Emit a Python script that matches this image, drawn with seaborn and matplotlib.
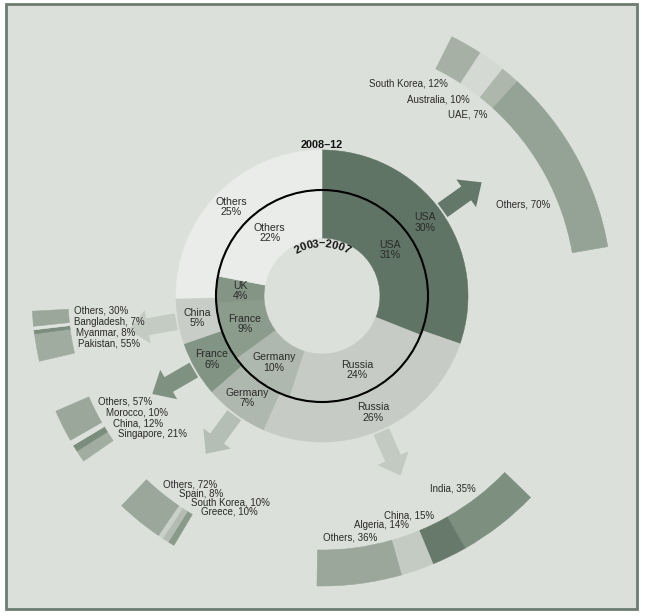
import matplotlib
matplotlib.use("Agg")
import matplotlib.pyplot as plt
from matplotlib.patches import Circle, Rectangle
import seaborn as sns
import numpy as np

# Share of world arms exports, two periods (clockwise from 12 o'clock)
inner_labels = ['USA', 'Russia', 'Germany', 'France', 'UK', 'Others']
inner_values = [31, 24, 10, 9, 4, 22]          # 2003-2007
outer_labels = ['USA', 'Russia', 'Germany', 'France', 'China', 'Others']
outer_values = [30, 26, 7, 6, 5, 25]           # 2008-12

# Main buyers of each exporter, 2008-12 (clockwise order along the arc)
usa_buyers = ['South Korea', 'Australia', 'UAE', 'Others']
usa_shares = [12, 10, 7, 70]
russia_buyers = ['India', 'China', 'Algeria', 'Others']
russia_shares = [35, 15, 14, 36]
germany_buyers = ['Greece', 'South Korea', 'Spain', 'Others']
germany_shares = [10, 10, 8, 72]
france_buyers = ['Singapore', 'China', 'Morocco', 'Others']
france_shares = [21, 12, 10, 57]
china_buyers = ['Pakistan', 'Myanmar', 'Bangladesh', 'Others']
china_shares = [55, 8, 7, 30]

# ---- styling / layout ----
BG = '#dce0da'
TXT = '#2a2a2a'
inner_colors = ['#5f7464', '#c6ccc5', '#afb8ae', '#8b9b8c', '#849586', '#e9ece8']
outer_colors = ['#5f7464', '#c6ccc5', '#afb8ae', '#829484', '#c8cec7', '#e9ece8']
arrow_colors = ['#64786a', '#c3cac2', '#b5beb4', '#7f9282', '#c4cbc3']

CX, CY = 322, 296          # pixel position of the donut centre
R_OUT, R_MID, R_HOLE = 146, 106, 58
R_ARC, W_ARC = 290, 36


def P(x, y):
    # pixel position -> data coords
    return x - CX, CY - y


sns.set_theme(style='white')
plt.rcParams['font.family'] = ['Liberation Sans', 'DejaVu Sans']

fig = plt.figure(figsize=(6.45, 6.16), dpi=100, facecolor='white')
ax = fig.add_axes([0, 0, 1, 1])
ax.axis('off')

# panel background with frame
x0, y0 = P(6, 609)
ax.add_patch(Rectangle((x0, y0), 631, 605, facecolor=BG, edgecolor='#6d7c70',
                       lw=2, zorder=0))


def seal(wedges):
    for w in wedges:
        w.set_edgecolor(w.get_facecolor())
        w.set_linewidth(0.4)


outer_w, _ = ax.pie(outer_values, colors=outer_colors, startangle=90, counterclock=False,
                    radius=R_OUT, wedgeprops=dict(width=R_OUT - R_MID, linewidth=0))
inner_w, _ = ax.pie(inner_values, colors=inner_colors, startangle=90, counterclock=False,
                    radius=R_MID, wedgeprops=dict(width=R_MID - R_HOLE, linewidth=0))
seal(outer_w)
seal(inner_w)
for w in outer_w + inner_w:
    w.set_zorder(2)

ax.add_patch(Circle((0, 0), R_MID, fill=False, ec='black', lw=1.5, zorder=4))

# ring labels
outer_tot = sum(outer_values)
for w, lab, v in zip(outer_w, outer_labels, outer_values):
    a = np.deg2rad((w.theta1 + w.theta2) / 2)
    r = 127
    ax.text(r * np.cos(a), r * np.sin(a), f'{lab}\n{round(v / outer_tot * 100)}%',
            ha='center', va='center', fontsize=7.6, color=TXT, linespacing=1.05, zorder=5)
for w, lab, v in zip(inner_w, inner_labels, inner_values):
    a = np.deg2rad((w.theta1 + w.theta2) / 2)
    r = (R_MID + R_HOLE) / 2
    ax.text(r * np.cos(a), r * np.sin(a), f'{lab}\n{v}%',
            ha='center', va='center', fontsize=7.6, color=TXT, linespacing=1.05, zorder=5)

# period titles
ax.text(*P(322, 145), '2008\u201312', ha='center', va='center', fontsize=7.8,
        fontweight='bold', color='#111111', zorder=5)
period = '2003\u20132007'
n = len(period)
for i, ch in enumerate(period):
    th = (i - (n - 1) / 2) * 7.0
    t = np.deg2rad(th)
    ax.text(52 * np.sin(t), 52 * np.cos(t), ch, rotation=-th, ha='center', va='center',
            fontsize=8, fontweight='bold', color='#111111', zorder=5,
            rotation_mode='anchor')

# arrows from each exporter to its buyers
for w, col in zip(outer_w[:5], arrow_colors):
    a = np.deg2rad((w.theta1 + w.theta2) / 2)
    r0, r1 = R_OUT + 2, R_OUT + 50
    ax.arrow(r0 * np.cos(a), r0 * np.sin(a), (r1 - r0) * np.cos(a), (r1 - r0) * np.sin(a),
             width=17, head_width=34, head_length=19, length_includes_head=True,
             fc=col, ec='none', zorder=3)

# buyer arcs: (names, shares, colours, compass start, compass end, label layout)
groups = [
    (usa_buyers, usa_shares, ['#a6b0a5', '#d4d9d3', '#adb7ac', '#94a395'], 26.6, 80.2,
     [(448, 84, 'right'), (470, 99, 'right'), (487, 115, 'right'), (496, 205, 'left')]),
    (russia_buyers, russia_shares, ['#7d9080', '#67796a', '#c4cbc3', '#9aa79a'], 134, 181,
     [(476, 489, 'right'), (434, 515, 'right'), (409, 525, 'right'), (377, 537, 'right')]),
    (germany_buyers, germany_shares, ['#899a8a', '#b3bcb2', '#c9d0c8', '#9ba79b'], 210.7, 223.7,
     [(201, 512, 'left'), (191, 503, 'left'), (179, 494, 'left'), (163, 485, 'left')]),
    (france_buyers, france_shares, ['#a2ada1', '#7a8c7c', '#dde1dc', '#9ba79b'], 235.3, 246.6,
     [(118, 434, 'left'), (113, 424, 'left'), (106, 413, 'left'), (98, 402, 'left')]),
    (china_buyers, china_shares, ['#a1aca0', '#7b8d7d', '#e0e4df', '#9ba79b'], 257, 267,
     [(78, 344, 'left'), (76, 333, 'left'), (74, 322, 'left'), (74, 311, 'left')]),
]
for names, shares, cols, a0, a1, lay in groups:
    span = (a1 - a0) / 360
    tot = sum(shares)
    fracs = [s / tot * span for s in shares]
    ws, _ = ax.pie(fracs, colors=cols, startangle=90 - a0, counterclock=False,
                   radius=R_ARC, normalize=False,
                   wedgeprops=dict(width=W_ARC, linewidth=0))
    seal(ws)
    for nm, s, (x, y, ha) in zip(names, shares, lay):
        ax.text(*P(x, y), f'{nm}, {s}%', ha=ha, va='center', fontsize=7,
                color=TXT, zorder=5)

ax.set_aspect('auto')
ax.set_xlim(-CX, 645 - CX)
ax.set_ylim(CY - 616, CY)

fig.savefig('out.png', dpi=100, facecolor='white')
